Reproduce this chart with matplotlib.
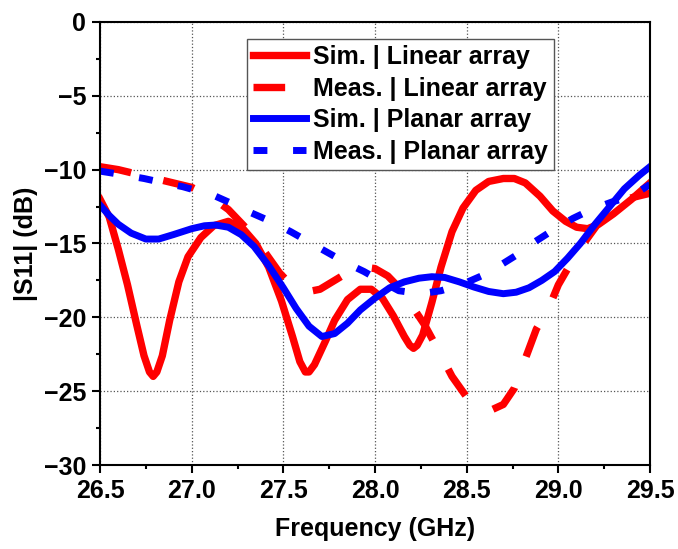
import matplotlib
matplotlib.use("Agg")
import matplotlib.pyplot as plt
from matplotlib.ticker import MultipleLocator, AutoMinorLocator

plt.rcParams['font.family'] = ['Liberation Sans', 'DejaVu Sans']
plt.rcParams['font.weight'] = 'bold'

# Sim. | Linear array
sim_lin_f = [26.5, 26.55, 26.6, 26.65, 26.7, 26.74, 26.77, 26.79, 26.81, 26.84, 26.88,
             26.93, 26.98, 27.05, 27.12, 27.2, 27.28, 27.35, 27.42, 27.49, 27.55, 27.59,
             27.62, 27.64, 27.67, 27.73, 27.78, 27.85, 27.92, 27.98, 28.04, 28.1, 28.16,
             28.19, 28.21, 28.23, 28.26, 28.31, 28.36, 28.42, 28.48, 28.55, 28.62, 28.7,
             28.76, 28.82, 28.9, 28.97, 29.04, 29.1, 29.16, 29.22, 29.3, 29.4, 29.5]
sim_lin_s = [-12.0, -13.2, -15.4, -17.8, -20.5, -22.6, -23.7, -24.0, -23.7, -22.6, -20.2,
             -17.6, -15.9, -14.6, -13.8, -13.5, -14.0, -15.0, -16.6, -18.9, -21.3, -23.0,
             -23.7, -23.7, -23.2, -21.6, -20.2, -18.8, -18.1, -18.1, -18.7, -19.9, -21.3,
             -21.9, -22.1, -21.9, -21.2, -19.0, -16.6, -14.2, -12.6, -11.4, -10.8, -10.6,
             -10.6, -10.9, -11.8, -12.8, -13.5, -13.9, -14.0, -13.7, -13.0, -12.0, -10.9]

# Meas. | Linear array
meas_lin_f = [26.5, 26.6, 26.7, 26.8, 26.9, 27.0, 27.1, 27.2, 27.3, 27.4, 27.48, 27.55,
              27.62, 27.7, 27.78, 27.86, 27.94, 28.0, 28.07, 28.14, 28.2, 28.27, 28.34,
              28.42, 28.5, 28.57, 28.63, 28.7, 28.76, 28.82, 28.88, 28.95, 29.0, 29.07,
              29.15, 29.22, 29.3, 29.4, 29.5]
meas_lin_s = [-9.8, -10.0, -10.3, -10.6, -10.9, -11.2, -11.8, -12.7, -14.0, -15.6, -17.0,
              -17.9, -18.3, -18.1, -17.5, -16.9, -16.6, -16.7, -17.2, -18.1, -19.2, -20.5,
              -22.1, -24.0, -25.4, -26.2, -26.3, -25.9, -24.8, -22.8, -20.8, -19.3, -17.8,
              -16.3, -14.8, -13.6, -12.6, -11.9, -11.6]

# Sim. | Planar array
sim_pla_f = [26.5, 26.55, 26.6, 26.67, 26.75, 26.82, 26.9, 27.0, 27.07, 27.13, 27.2, 27.27,
             27.34, 27.42, 27.5, 27.57, 27.64, 27.71, 27.78, 27.85, 27.92, 28.0, 28.08,
             28.16, 28.24, 28.31, 28.38, 28.46, 28.54, 28.62, 28.7, 28.77, 28.84, 28.91,
             28.98, 29.05, 29.12, 29.2, 29.28, 29.36, 29.44, 29.5]
sim_pla_s = [-12.4, -13.1, -13.7, -14.3, -14.7, -14.7, -14.4, -14.0, -13.8, -13.75, -13.9,
             -14.4, -15.2, -16.5, -18.0, -19.4, -20.6, -21.3, -21.1, -20.4, -19.5, -18.7,
             -18.0, -17.6, -17.35, -17.25, -17.3, -17.6, -17.95, -18.25, -18.4, -18.3,
             -18.0, -17.5, -16.9, -16.0, -15.0, -13.7, -12.5, -11.3, -10.4, -9.8]

# Meas. | Planar array
meas_pla_f = [26.5, 26.6, 26.74, 26.85, 26.95, 27.05, 27.13, 27.22, 27.32, 27.43, 27.54,
              27.64, 27.74, 27.84, 27.94, 28.04, 28.13, 28.25, 28.36, 28.47, 28.58, 28.68,
              28.77, 28.87, 28.97, 29.08, 29.18, 29.29, 29.4, 29.5]
meas_pla_s = [-10.1, -10.3, -10.6, -10.9, -11.15, -11.5, -11.8, -12.3, -12.9, -13.5, -14.2,
              -14.9, -15.6, -16.3, -16.9, -17.6, -18.2, -18.4, -18.2, -17.8, -17.2, -16.5,
              -15.8, -14.9, -14.1, -13.3, -12.7, -12.2, -11.8, -11.0]

fig = plt.figure(figsize=(6.78, 5.49), dpi=100)
ax = fig.add_axes([0.1475, 0.153, 0.8112, 0.807])

ax.plot(sim_lin_f, sim_lin_s, color='#ff0000', lw=5.3, solid_joinstyle='round',
        label='Sim. | Linear array')
ax.plot(meas_lin_f, meas_lin_s, color='#ff0000', lw=5.3, dashes=(4.3, 4.5),
        label='Meas. | Linear array')
ax.plot(sim_pla_f, sim_pla_s, color='#0000ff', lw=5, solid_joinstyle='round',
        label='Sim. | Planar array')
ax.plot(meas_pla_f, meas_pla_s, color='#0000ff', lw=5, dashes=(2.0, 3.7),
        label='Meas. | Planar array')

ax.set_xlim(26.5, 29.5)
ax.set_ylim(-30, 0)
ax.xaxis.set_major_locator(MultipleLocator(0.5))
ax.yaxis.set_major_locator(MultipleLocator(5))
ax.xaxis.set_minor_locator(AutoMinorLocator(2))
ax.yaxis.set_minor_locator(AutoMinorLocator(2))
ax.xaxis.set_major_formatter(plt.FormatStrFormatter('%.1f'))
ax.tick_params(which='major', direction='out', length=6, width=1.5, labelsize=18, pad=4)
ax.tick_params(which='minor', direction='out', length=3, width=1.5)
for s in ax.spines.values():
    s.set_linewidth(1.5)
ax.grid(True, which='major', color='#555555', linestyle=':', linewidth=0.9)

ax.set_xlabel('Frequency (GHz)', fontsize=18, fontweight='bold', labelpad=10)
ax.set_ylabel('|S11| (dB)', fontsize=18, fontweight='bold', labelpad=4)

leg = ax.legend(loc='upper left', bbox_to_anchor=(0.267, 0.962), borderaxespad=0,
                fontsize=18, handlelength=2.1, handletextpad=0.3, labelspacing=0.3,
                fancybox=False, framealpha=1, edgecolor='#555555', borderpad=0.25)
leg.get_frame().set_linewidth(1.0)

fig.savefig('out.png', dpi=100)
